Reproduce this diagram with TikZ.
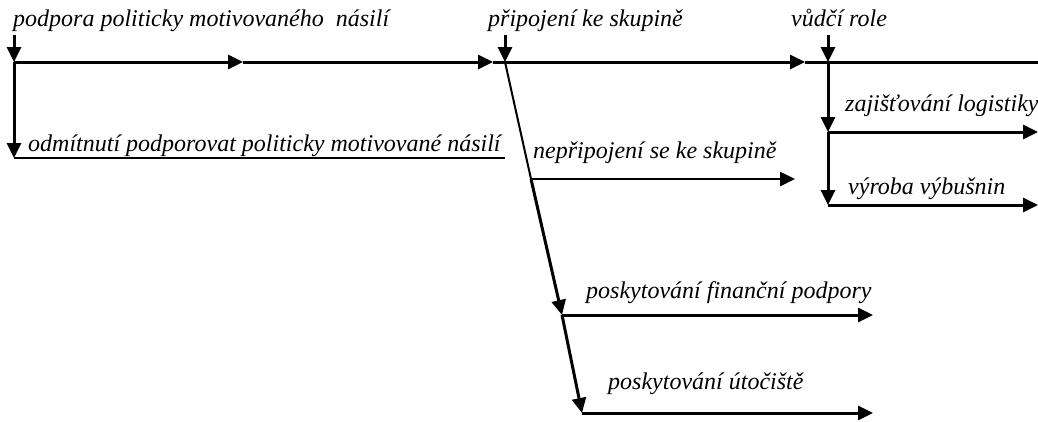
\documentclass[tikz,border=0pt]{standalone}
\usepackage{fontspec}
\setmainfont{Liberation Serif}
\usetikzlibrary{arrows.meta}

\begin{document}
\begin{tikzpicture}[x=1pt, y=-1pt,
  lbl/.style={anchor=base west, inner sep=0pt, font=\fontsize{24}{28}\selectfont\itshape},
  flow/.style={line width=3pt, -{Triangle[length=15pt,width=14pt]}},
  bar/.style={line width=3pt},
  thinbar/.style={line width=2pt}]
\useasboundingbox (0,0) rectangle (1038,421);

% labels
\node [lbl] (podpora) at (13,26) {podpora politicky motivovaného\ \ násilí};
\node [lbl] (odmitnuti) at (28,151) {odmítnutí podporovat politicky motivované násilí};
\node [lbl] (pripojeni) at (488,26) {připojení ke skupině};
\node [lbl] (nepripojeni) at (533,158) {nepřipojení se ke skupině};
\node [lbl] (vudci) at (791,26) {vůdčí role};
\node [lbl] (logistika) at (845,111) {zajišťování logistiky};
\node [lbl] (vyroba) at (848,194) {výroba výbušnin};
\node [lbl] (financni) at (586,298) {poskytování finanční podpory};
\node [lbl] (utociste) at (608,389) {poskytování útočiště};

% points on the lines
\coordinate (a0) at (14,35);
\coordinate (a1) at (14,62);
\coordinate (a2) at (243,62);
\coordinate (a3) at (493,62);
\coordinate (b0) at (505,35);
\coordinate (b1) at (505,62);
\coordinate (a4) at (805,62);
\coordinate (c0) at (828,35);
\coordinate (c1) at (828,62);
\coordinate (a5) at (1038,62);
\coordinate (d1) at (14,158);
\coordinate (d2) at (505,158);
\coordinate (e1) at (531,179);
\coordinate (e2) at (795,179);
\coordinate (f1) at (562,315);
\coordinate (f2) at (873,315);
\coordinate (g1) at (582,413);
\coordinate (g2) at (873,413);
\coordinate (h1) at (828,132);
\coordinate (h2) at (1038,132);
\coordinate (k1) at (828,205);
\coordinate (k2) at (1038,205);

% main line
\draw [flow] (a0) -- (a1);
\draw [flow] (a1) -- (a2);
\draw [flow] (a2) -- (a3);
\draw [bar] (a3) -- (b1);
\draw [flow] (b0) -- (b1);
\draw [flow] (b1) -- (a4);
\draw [bar] (a4) -- (a5);

% refusal
\draw [flow] (a1) -- (d1);
\draw [thinbar] (d1) -- (d2);

% joining the group
\draw [thinbar] (b1) -- (e1);
\draw [flow, line width=2.5pt] (e1) -- (e2);
\draw [flow] (e1) -- (f1);
\draw [flow] (f1) -- (f2);
\draw [flow] (f1) -- (g1);
\draw [flow] (g1) -- (g2);

% leading role
\draw [flow] (c0) -- (c1);
\draw [flow] (c1) -- (h1);
\draw [flow] (h1) -- (h2);
\draw [flow] (h1) -- (k1);
\draw [flow] (k1) -- (k2);
\end{tikzpicture}
\end{document}
